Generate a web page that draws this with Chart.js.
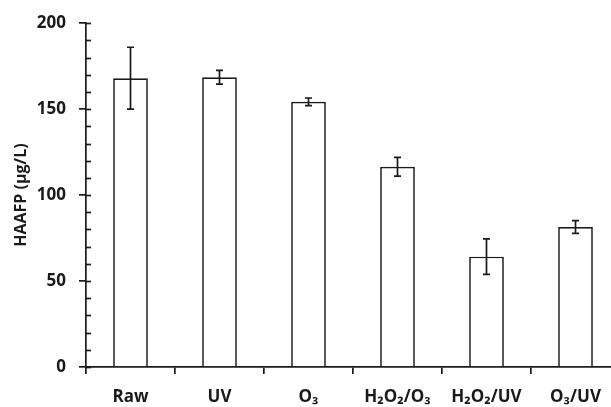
<!DOCTYPE html>
<html>
<head>
<meta charset="utf-8">
<script src="https://cdn.jsdelivr.net/npm/chart.js@4/dist/chart.umd.min.js"></script>
<style>
html,body{margin:0;padding:0;background:#fff;overflow:hidden;}
#wrap{width:625px;height:407px;position:relative;}
</style>
</head>
<body>
<div id="wrap"><canvas id="c"></canvas></div>
<script>
const categories = ["Raw", "UV", "O₃", "H₂O₂/O₃", "H₂O₂/UV", "O₃/UV"];
const haafp = [168, 168.5, 154.3, 116.5, 64.2, 81.4];
const errors = [18, 4, 2.2, 5.5, 10.3, 3.7];
const yMax = 200;
const yMajorStep = 50;
const yMinorStep = 10;
const yAxisTitle = "HAAFP (µg/L)";

const FONT = "'Open Sans', Lato, 'Liberation Sans', sans-serif";

const extrasPlugin = {
  id: 'extras',
  afterDatasetsDraw(chart) {
    const ctx = chart.ctx;
    const xs = chart.scales.x, ys = chart.scales.y;
    const meta = chart.getDatasetMeta(0);
    ctx.save();
    ctx.strokeStyle = '#1a1a1a';
    ctx.lineWidth = 1.7;
    meta.data.forEach((bar, i) => {
      const x = bar.x;
      const yT = ys.getPixelForValue(haafp[i] + errors[i]);
      const yB = ys.getPixelForValue(haafp[i] - errors[i]);
      ctx.beginPath();
      ctx.moveTo(x, yT); ctx.lineTo(x, yB);
      ctx.moveTo(x - 3.5, yT); ctx.lineTo(x + 3.5, yT);
      ctx.moveTo(x - 3.5, yB); ctx.lineTo(x + 3.5, yB);
      ctx.stroke();
    });
    const ax = xs.left;
    for (let v = 0; v <= yMax; v += yMinorStep) {
      const y = Math.round(ys.getPixelForValue(v)) + 0.5;
      ctx.beginPath();
      ctx.moveTo(ax, y); ctx.lineTo(ax + 5, y);
      ctx.stroke();
    }
    ctx.restore();
  }
};

new Chart(document.getElementById('c'), {
  type: 'bar',
  data: {
    labels: categories,
    datasets: [{
      data: haafp,
      backgroundColor: '#ffffff',
      borderColor: '#1a1a1a',
      borderWidth: 1.7,
      barPercentage: 0.39,
      categoryPercentage: 1.0
    }]
  },
  options: {
    responsive: true,
    maintainAspectRatio: false,
    animation: false,
    layout: { padding: { top: 21, right: 5, left: 0, bottom: 0 } },
    plugins: { legend: { display: false }, tooltip: { enabled: false } },
    scales: {
      x: {
        offset: true,
        grid: { display: true, offset: true, drawOnChartArea: false, drawTicks: true, tickLength: 7, color: '#1a1a1a', lineWidth: 1.7 },
        border: { display: true, color: '#1a1a1a', width: 1.7 },
        ticks: { color: '#1a1a1a', font: { family: FONT, size: 17, weight: 'bold' }, padding: 13, maxRotation: 0, autoSkip: false },
        afterFit(s) { s.height = 40; }
      },
      y: {
        min: 0, max: yMax,
        grid: { display: true, drawOnChartArea: false, drawTicks: true, tickLength: 7, color: '#1a1a1a', lineWidth: 1.7 },
        border: { display: true, color: '#1a1a1a', width: 1.7 },
        ticks: { stepSize: yMajorStep, color: '#1a1a1a', font: { family: FONT, size: 17, weight: 'bold' }, padding: 13 },
        title: { display: true, text: yAxisTitle, color: '#1a1a1a', font: { family: FONT, size: 16, weight: 'bold' }, padding: { top: 12, bottom: 0 } },
        afterFit(s) { s.width = 86; }
      }
    }
  },
  plugins: [extrasPlugin]
});
</script>
</body>
</html>
